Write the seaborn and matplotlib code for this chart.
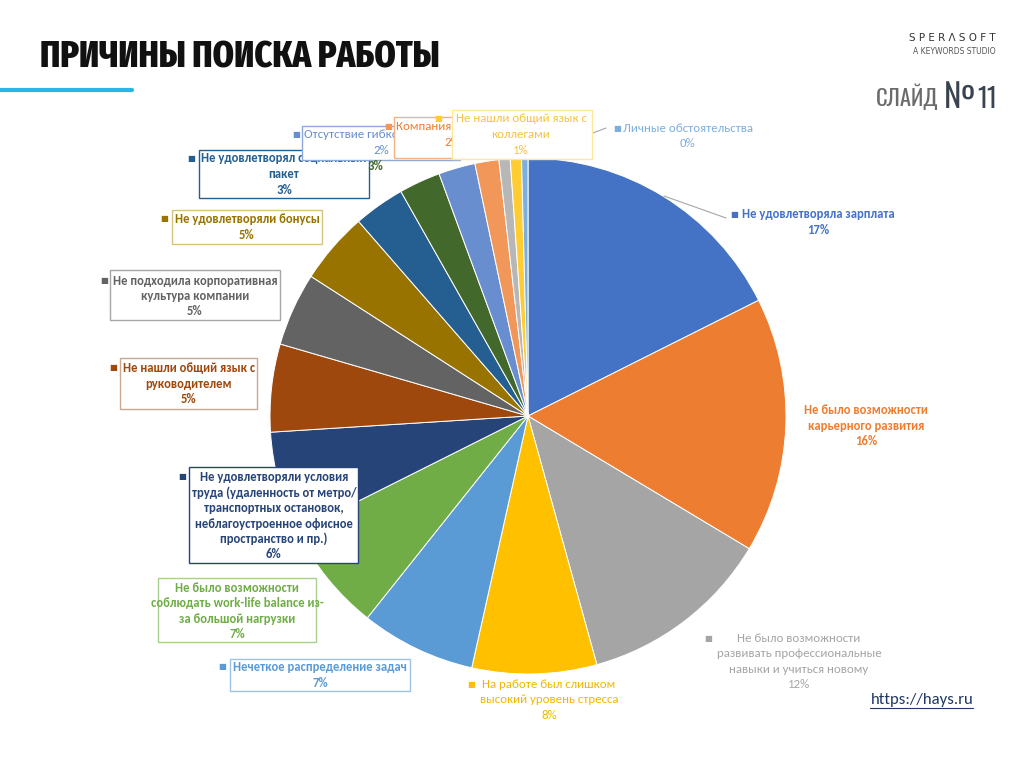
import matplotlib
matplotlib.use("Agg")
import matplotlib.pyplot as plt
import seaborn as sns
from matplotlib.patches import Rectangle
from matplotlib.lines import Line2D
from matplotlib import font_manager
from matplotlib.ft2font import FT2Font

# ---------------- data ----------------
reasons = [
    "Не удовлетворяла зарплата",
    "Не было возможности карьерного развития",
    "Не было возможности развивать профессиональные навыки и учиться новому",
    "На работе был слишком высокий уровень стресса",
    "Нечеткое распределение задач",
    "Не было возможности соблюдать work-life balance из-за большой нагрузки",
    "Не удовлетворяли условия труда (удаленность от метро/транспортных остановок, неблагоустроенное офисное пространство и пр.)",
    "Не нашли общий язык с руководителем",
    "Не подходила корпоративная культура компании",
    "Не удовлетворяли бонусы",
    "Не удовлетворял социальный пакет",
    "(подпись скрыта)",
    "Отсутствие гибкого графика",
    "Компания в кризисе",
    "(подпись скрыта) ",
    "Не нашли общий язык с коллегами",
    "Личные обстоятельства",
]
values = [17.6, 16.0, 12.1, 7.8, 7.2, 6.9, 6.4, 5.5, 4.6, 4.5, 3.2, 2.6, 2.3, 1.5, 0.7, 0.7, 0.4]
pct_labels = ["17%", "16%", "12%", "8%", "7%", "7%", "6%", "5%", "5%", "5%",
              "3%", "3%", "2%", "2%", "1%", "1%", "0%"]
slice_colors = ["#4472C4", "#ED7D31", "#A5A5A5", "#FFC000", "#5B9BD5", "#70AD47",
                "#264478", "#9E480E", "#636363", "#997300", "#255E91", "#43682B",
                "#698ED0", "#F1975A", "#B7B7B7", "#FFCD33", "#7CAFDD"]

# ---------------- style ----------------
sns.set_theme(style="white")
fonts = {}
for f in font_manager.fontManager.ttflist:
    fonts.setdefault((f.name, f.weight if isinstance(f.weight, int) else 400), f.fname)

def has_cyr(name, min_weight=0):
    for (n, w), path in fonts.items():
        if n == name and w >= min_weight:
            try:
                if 0x0416 in FT2Font(path).get_charmap():
                    return True
            except Exception:
                pass
    return False

def pick(cands, min_weight=0, default="DejaVu Sans"):
    for c in cands:
        if has_cyr(c, min_weight):
            return c
    return default

LBL = pick(["Carlito", "Lato", "Open Sans"])
TTL_BOLD = pick(["Fira Sans Extra Condensed", "Fira Sans Condensed", "PT Sans Narrow",
                 "Roboto Condensed", "Archivo Narrow", "Oswald"], min_weight=700)
TTL_LIGHT = pick(["Oswald", "Fira Sans Extra Condensed", "Roboto Condensed"])
plt.rcParams["font.family"] = [LBL, "DejaVu Sans"]

W, H = 1024, 767
fig = plt.figure(figsize=(W / 100, H / 100), dpi=100)
fig.patch.set_facecolor("white")
renderer = fig.canvas.get_renderer()

def fx(x):
    return x / W

def fy(y):
    return 1 - y / H

def width_px(s, size, weight, family):
    t = fig.text(0, 0, s, fontsize=size, fontweight=weight, family=family)
    w = t.get_window_extent(renderer).width
    t.remove()
    return w

def fit(s, target, weight, family, base=10.0):
    return base * target / width_px(s, base, weight, family)

FAM = [LBL, "DejaVu Sans"]
SZ_B = fit("Не удовлетворяла зарплата", 152, "bold", FAM)
SZ_R = fit("развивать профессиональные", 166, "normal", FAM)

# ---------------- pie ----------------
cx, cy, R = 528, 416, 258
ax = fig.add_axes([fx(cx - R), fy(cy + R), 2 * R / W, 2 * R / H])
palette = sns.color_palette(slice_colors)
ax.pie(values, colors=palette, startangle=90, counterclock=False, radius=1,
       wedgeprops=dict(edgecolor="white", linewidth=0.7))
ax.set_xlim(-1, 1)
ax.set_ylim(-1, 1)
ax.set_aspect("equal")
ax.axis("off")

# ---------------- helpers ----------------
def text_lines(lines, x, y0, color, weight="bold", dy=15.6, z=30):
    size = SZ_B if weight == "bold" else SZ_R
    for i, s in enumerate(lines):
        fig.text(fx(x), fy(y0 + i * dy), s, ha="center", va="center", color=color,
                 fontsize=size, fontweight=weight, zorder=z, family=FAM)

def box(x0, y0, x1, y1, ec, z):
    fig.add_artist(Rectangle((fx(x0), fy(y1)), (x1 - x0) / W, (y1 - y0) / H,
                             transform=fig.transFigure, facecolor="white",
                             edgecolor=ec, lw=1.0, zorder=z))

def marker(x, y, color):
    fig.text(fx(x), fy(y), "■", ha="center", va="center", color=color,
             fontsize=6, zorder=60, family="DejaVu Sans")

def leader(x0, y0, x1, y1, z=5):
    fig.add_artist(Line2D([fx(x0), fx(x1)], [fy(y0), fy(y1)], transform=fig.transFigure,
                          color="#A6A6A6", lw=0.8, zorder=z))

def split(i, parts):
    return parts + [pct_labels[i]]

# ---------------- labels ----------------
# 0 salary
leader(664, 196, 726, 218)
marker(734, 214, slice_colors[0])
text_lines(["Не удовлетворяла зарплата", pct_labels[0]], 818, 214, "#4472C4")
# 1 career
text_lines(split(1, ["Не было возможности", "карьерного развития"]), 866, 410, "#ED7D31")
# 2 skills
marker(708, 638, slice_colors[2])
text_lines(split(2, ["Не было возможности", "развивать профессиональные", "навыки и учиться новому"]),
           799, 638, "#A5A5A5", weight="normal")
# 3 stress
marker(471, 684, slice_colors[3])
text_lines(split(3, ["На работе был слишком", "высокий уровень стресса"]), 549, 684, "#F2B800",
           weight="normal")
# 4 tasks
box(230, 659, 410, 691, "#9DC3E6", 20)
marker(222, 667, slice_colors[4])
text_lines(["Нечеткое распределение задач", pct_labels[4]], 320, 667, "#5B9BD5", z=21)
# 5 work-life
box(158, 578, 316, 642, "#A9D18E", 20)
text_lines(split(5, ["Не было возможности", "соблюдать work-life balance из-", "за большой нагрузки"]),
           237, 588, "#70AD47", z=21, dy=15.3)
# 6 conditions
box(189, 467, 358, 563, "#264478", 20)
marker(182, 476, slice_colors[6])
text_lines(split(6, ["Не удовлетворяли условия", "труда (удаленность от метро/",
                     "транспортных остановок,", "неблагоустроенное офисное",
                     "пространство и пр.)"]), 274, 477, "#264478", z=21, dy=15.5)
# 7 manager
box(120, 358, 257, 409, "#C9A78F", 20)
marker(113, 368, slice_colors[7])
text_lines(split(7, ["Не нашли общий язык с", "руководителем"]), 189, 368, "#9E480E", z=21)
# 8 culture
box(110, 270, 280, 320, "#A6A6A6", 20)
marker(104, 281, slice_colors[8])
text_lines(split(8, ["Не подходила корпоративная", "культура компании"]), 195, 281, "#636363", z=21,
           dy=15.0)
# 9 bonus
box(172, 210, 322, 244, "#D6C27F", 20)
marker(164, 219, slice_colors[9])
text_lines(["Не удовлетворяли бонусы", pct_labels[9]], 247, 219, "#997300", z=21)
# 10 social package
box(199, 150, 369, 198, "#255E91", 22)
marker(191, 158, slice_colors[10])
text_lines(split(10, ["Не удовлетворял социальный", "пакет"]), 284, 158, "#255E91", z=23, dy=16)
# 16 personal (leader under the yellow box)
leader(528, 158, 606, 128, z=5)
marker(617, 128, slice_colors[16])
text_lines(["Личные обстоятельства", pct_labels[16]], 688, 128, "#7CAFDD", weight="normal")
# 12 flexibility
box(302, 126, 460, 160, "#8EA9DB", 24)
marker(296, 134, slice_colors[12])
text_lines(["Отсутствие гибкого графика", pct_labels[12]], 381, 135, "#698ED0", z=25, weight="normal")
# 13 company
box(394, 117, 510, 158, "#F4B183", 26)
marker(388, 127, slice_colors[13])
text_lines(["Компания в кризисе", pct_labels[13]], 452, 127, "#ED7D31", z=27, weight="normal")
# 15 colleagues
box(452, 110, 592, 159, "#FFE699", 28)
marker(438, 118, slice_colors[15])
text_lines(split(15, ["Не нашли общий язык с", "коллегами"]), 521, 119, "#F5C342", z=29,
           weight="normal")
# 11 slice with hidden name, only its percent is visible
text_lines([pct_labels[11]], 375, 166, "#43682B", z=60)

# ---------------- slide decorations ----------------
TB = [TTL_BOLD, "DejaVu Sans"]
TL = [TTL_LIGHT, "DejaVu Sans"]
title = "ПРИЧИНЫ ПОИСКА РАБОТЫ"
fig.text(fx(40), fy(57), title, ha="left", va="center",
         fontsize=fit(title, 398, "heavy", TB), fontweight="heavy", family=TB,
         color="#111111")
fig.add_artist(Line2D([0, fx(132)], [fy(90), fy(90)], transform=fig.transFigure,
                      color="#29B5E8", lw=3))
fig.text(fx(996), fy(38), "S P E R Λ S O F T", ha="right", va="center", fontsize=7.5,
         color="#333333", family="DejaVu Sans")
fig.text(fx(996), fy(51), "A KEYWORDS STUDIO", ha="right", va="center", fontsize=5.5,
         color="#555555", family="DejaVu Sans")
fig.text(fx(876), fy(97), "СЛАЙД", ha="left", va="center",
         fontsize=fit("СЛАЙД", 62, "light", TL), fontweight="light",
         color="#6B6B6B", family=TL)
fig.text(fx(944), fy(97), "№", ha="left", va="center",
         fontsize=fit("№", 31, "bold", TL), fontweight="bold",
         color="#3A4350", family=TL)
fig.text(fx(977), fy(100), "11", ha="left", va="center",
         fontsize=fit("11", 20, "normal", TL), color="#3A4350", family=TL)
fig.text(fx(922), fy(700), "https://hays.ru", ha="center", va="center",
         fontsize=fit("https://hays.ru", 103, "normal", FAM),
         color="#1F3864", family=FAM)
fig.add_artist(Line2D([fx(870), fx(973)], [fy(708), fy(708)], transform=fig.transFigure,
                      color="#1F3864", lw=0.8))

fig.savefig("out.png", dpi=100, facecolor="white")
